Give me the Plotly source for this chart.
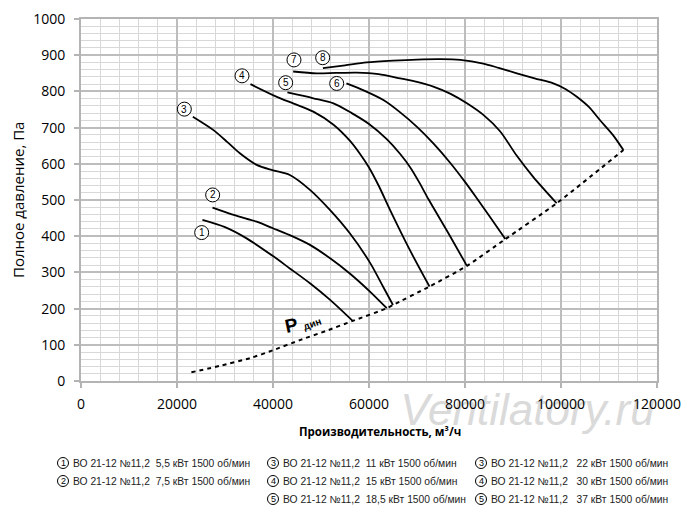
import plotly.graph_objects as go

# ---- data ----
c1_x = [25300, 30000, 34500, 40000, 43500, 47700, 51900, 56600]
c1_y = [445, 425, 394, 345, 311, 270, 224, 166]

c2_x = [27400, 32000, 36600, 40000, 43500, 47700, 51900, 56000, 60200, 63700]
c2_y = [479, 458, 440, 422, 403, 376, 339, 297, 247, 201]

c3_x = [23300, 27600, 30500, 33100, 36600, 40000, 43500, 47700, 51900, 56000, 60200, 63000, 65000]
c3_y = [730, 693, 660, 629, 597, 582, 569, 528, 472, 408, 327, 259, 210]

c4_x = [35300, 40800, 44200, 48400, 52600, 56000, 58100, 60000, 62000, 64400, 68500, 72600]
c4_y = [820, 785, 767, 744, 708, 664, 628, 590, 540, 472, 362, 261]

c5_x = [43000, 48400, 52600, 56400, 60000, 63700, 66500, 68700, 70500, 72400, 76900, 80400]
c5_y = [797, 781, 767, 740, 710, 668, 627, 588, 548, 502, 400, 318]

c6_x = [55300, 59000, 63000, 66500, 70000, 73500, 76900, 80000, 82500, 85000, 88400]
c6_y = [822, 802, 776, 742, 702, 655, 603, 550, 504, 457, 392]

c7_x = [44200, 49100, 53000, 57400, 62000, 66500, 70000, 73400, 77000, 80400, 84000, 87300, 90800, 94200, 99100]
c7_y = [855, 850, 851, 852, 848, 836, 826, 813, 793, 767, 733, 690, 622, 564, 491]

c8_x = [50400, 55000, 59500, 65000, 70000, 75000, 79000, 83800, 87000, 90800, 94500, 98400, 101000, 103300, 105800, 108100, 110800, 113000]
c8_y = [864, 872, 880, 885, 888, 889, 887, 877, 865, 850, 836, 822, 806, 785, 757, 721, 680, 638]

pdyn_x = [23000, 29000, 35200, 40000, 45600, 51000, 56600, 63700, 65000, 72600, 80400, 88400, 99100, 113000]
pdyn_y = [24, 42, 63, 85, 113, 138, 166, 201, 210, 261, 318, 392, 491, 638]

curve_labels = ["1", "2", "3", "4", "5", "6", "7", "8"]
x_ticks = [0, 20000, 40000, 60000, 80000, 100000, 120000]
y_ticks = [0, 100, 200, 300, 400, 500, 600, 700, 800, 900, 1000]

legend_nums = [["1", "2"], ["3", "4", "5"], ["3", "4", "5"]]
legend_texts = [
    ["ВО 21-12 №11,2\u00a0\u00a05,5 кВт 1500 об/мин",
     "ВО 21-12 №11,2\u00a0\u00a07,5 кВт 1500 об/мин"],
    ["ВО 21-12 №11,2\u00a0\u00a011 кВт 1500 об/мин",
     "ВО 21-12 №11,2\u00a0\u00a015 кВт 1500 об/мин",
     "ВО 21-12 №11,2\u00a0\u00a018,5 кВт 1500 об/мин"],
    ["ВО 21-12 №11,2\u00a0\u00a0\u00a022 кВт 1500 об/мин",
     "ВО 21-12 №11,2\u00a0\u00a0\u00a030 кВт 1500 об/мин",
     "ВО 21-12 №11,2\u00a0\u00a0\u00a037 кВт 1500 об/мин"],
]
watermark = "Ventilatory.ru"

# ---- figure (page has an 8px body margin; compensate) ----
OFF = 8
W, H = 700 - 2 * OFF, 513 - 2 * OFF
PW, PH = 576, 362
ML, MT = 81 - OFF, 19 - OFF
MR, MB = W - ML - PW, H - MT - PH

def px2paper(px, py):
    fx, fy = px - OFF, py - OFF
    return (fx - ML) / PW, (H - MB - fy) / PH

fig = go.Figure()

curves = [(c1_x, c1_y), (c2_x, c2_y), (c3_x, c3_y), (c4_x, c4_y),
          (c5_x, c5_y), (c6_x, c6_y), (c7_x, c7_y), (c8_x, c8_y)]
for cx, cy in curves:
    fig.add_trace(go.Scatter(x=cx, y=cy, mode="lines",
                             line=dict(color="black", width=1.8, shape="spline", smoothing=0.8),
                             showlegend=False, hoverinfo="skip"))
fig.add_trace(go.Scatter(x=pdyn_x, y=pdyn_y, mode="lines",
                         line=dict(color="black", width=2, dash="4px,4px", shape="spline", smoothing=0.6),
                         showlegend=False, hoverinfo="skip"))

shapes = []
annotations = []

# watermark as a label of an invisible shape drawn below everything else
wx0, wy0 = px2paper(395, 388)
wx1, wy1 = px2paper(660, 422)
shapes.append(dict(type="rect", xref="paper", yref="paper", x0=wx0, x1=wx1, y0=wy1, y1=wy0,
                   line=dict(width=0), fillcolor="rgba(0,0,0,0)", layer="below",
                   label=dict(text=watermark, textposition="middle center", padding=0,
                              font=dict(family="Liberation Sans", size=44, color="#dadada", style="italic"))))

# circled curve labels in the plot
label_pos = [(25140, 410), (27430, 514), (21530, 751), (33540, 843),
             (42640, 824), (53270, 822), (44370, 887), (50350, 893)]
for lab, (lx, ly) in zip(curve_labels, label_pos):
    shapes.append(dict(type="circle", xref="x", yref="y", xsizemode="pixel", ysizemode="pixel",
                       xanchor=lx, yanchor=ly, x0=-7, x1=7, y0=-7, y1=7,
                       line=dict(color="black", width=1), fillcolor="white", layer="above"))
    annotations.append(dict(x=lx, y=ly, xref="x", yref="y", text=lab, showarrow=False,
                            font=dict(family="Liberation Sans", size=10, color="black"),
                            xanchor="center", yanchor="middle"))

# P дин label
annotations.append(dict(x=43750, y=152, xref="x", yref="y", text="<b>P</b>", showarrow=False,
                        textangle=-12, font=dict(family="Liberation Sans", size=19, color="black"),
                        xanchor="center", yanchor="middle"))
annotations.append(dict(x=48300, y=158, xref="x", yref="y", text="<b>дин</b>", showarrow=False,
                        textangle=-20, font=dict(family="Liberation Sans", size=10, color="black"),
                        xanchor="center", yanchor="middle"))

# axis titles
tx, ty = px2paper(18, 200)
annotations.append(dict(x=tx, y=ty, xref="paper", yref="paper", text="Полное давление, Па",
                        showarrow=False, textangle=-90,
                        font=dict(family="Open Sans", size=15, color="black"),
                        xanchor="center", yanchor="middle"))
tx, ty = px2paper(380, 432)
annotations.append(dict(x=tx, y=ty, xref="paper", yref="paper", text="<b>Производительность, м³/ч</b>",
                        showarrow=False, font=dict(family="Open Sans", size=11.5, color="black"),
                        xanchor="center", yanchor="middle"))

# bottom legend
col_circle_x = [63, 273, 481]
col_text_x = [71, 281, 489]
row_y = [463, 481, 499]
for ci in range(3):
    for ri, (num, txt) in enumerate(zip(legend_nums[ci], legend_texts[ci])):
        py = row_y[ri]
        cxp, cyp = px2paper(col_circle_x[ci], py)
        shapes.append(dict(type="circle", xref="paper", yref="paper", xsizemode="pixel", ysizemode="pixel",
                           xanchor=cxp, yanchor=cyp, x0=-5.5, x1=5.5, y0=-5.5, y1=5.5,
                           line=dict(color="black", width=1), fillcolor="white"))
        annotations.append(dict(x=cxp, y=cyp, xref="paper", yref="paper", text=num, showarrow=False,
                                font=dict(family="Liberation Sans", size=9, color="black"),
                                xanchor="center", yanchor="middle"))
        txp, typ = px2paper(col_text_x[ci], py)
        annotations.append(dict(x=txp, y=typ, xref="paper", yref="paper", text=txt, showarrow=False,
                                font=dict(family="Liberation Sans Narrow, Liberation Sans", size=10.3, color="#222222"),
                                xanchor="left", yanchor="middle"))

axis_common = dict(showline=True, linecolor="#b4b4b4", linewidth=2, mirror=True,
                   showgrid=True, gridcolor="#bdbdbd", gridwidth=1.5,
                   ticks="outside", ticklen=5, tickcolor="#b4b4b4", tickwidth=1.5,
                   tickfont=dict(family="Open Sans", size=14, color="black"),
                   zeroline=False, fixedrange=True, automargin=False)

fig.update_layout(
    width=W, height=H,
    margin=dict(l=ML, r=MR, t=MT, b=MB, autoexpand=False),
    paper_bgcolor="white", plot_bgcolor="white",
    xaxis=dict(range=[0, 120000], tickvals=x_ticks, ticktext=[str(v) for v in x_ticks],
               minor=dict(dtick=4000, tick0=0, showgrid=True, gridcolor="#d8d8d8", gridwidth=1, ticks=""),
               ticklabelstandoff=4, **axis_common),
    yaxis=dict(range=[0, 1000], tickvals=y_ticks, ticktext=[str(v) for v in y_ticks],
               minor=dict(dtick=20, tick0=0, showgrid=True, gridcolor="#d8d8d8", gridwidth=1, ticks=""),
               ticklabelstandoff=6, **axis_common),
    shapes=shapes,
    annotations=annotations,
)

fig.write_html("out.html")
